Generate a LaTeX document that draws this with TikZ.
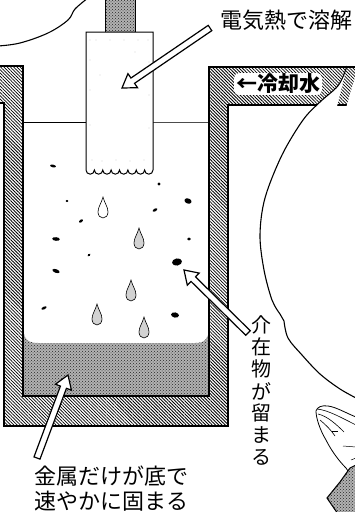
\documentclass[tikz,border=0pt]{standalone}
\usepackage{fontspec}
\newfontfamily\jp{Noto Sans CJK JP}
\usetikzlibrary{calc,patterns,patterns.meta}

% open block arrow from a tail coordinate to a tip coordinate
\newcommand\blockarrow[2]{%
  \coordinate (ba-h) at ($(#2)!13pt!(#1)$);
  \filldraw[blockarrow] (#2)
    -- ($(ba-h)!8.5pt!90:(#2)$) -- ($(ba-h)!3.2pt!90:(#2)$)
    -- ($(#1)!3.2pt!90:(#2)$) -- ($(#1)!3.2pt!-90:(#2)$)
    -- ($(ba-h)!3.2pt!-90:(#2)$) -- ($(ba-h)!8.5pt!-90:(#2)$) -- cycle;}

\tikzset{
  wall/.style={pattern={Lines[angle=-45,distance=2.3pt,line width=0.8pt]}, pattern color=black},
  outline/.style={draw=black, line width=1.6pt, line join=miter},
  stipple/.style={fill=gray!60, postaction={pattern=crosshatch dots, pattern color=black!85}},
  blockarrow/.style={fill=white, draw=black, line width=1.2pt, line join=miter},
  caption/.style={font=\jp\fontsize{22}{27}\selectfont, inner sep=0pt},
  vchar/.style={font=\jp\fontsize{20}{22}\selectfont, inner sep=0pt},
  grain/.style={fill=black},
  pics/drop/.style={code={
    \draw[line width=0.6pt, fill=#1] (0,0) .. controls (1.5,6) and (5,10) .. (5,15)
      .. controls (5,18.5) and (2.8,21) .. (0,21) .. controls (-2.8,21) and (-5,18.5) .. (-5,15)
      .. controls (-5,10) and (-1.5,6) .. (0,0) -- cycle;}},
}

\begin{document}
\begin{tikzpicture}[x=1pt, y=-1pt]
\useasboundingbox (0,0) rectangle (354,512);

% solidified metal pool at the bottom
\fill[stipple] (23,326) .. controls (23,339) and (28,343) .. (38,343) -- (195,343)
  .. controls (205,343) and (209,339) .. (209,326) -- (209,396) -- (23,396) -- cycle;

% molten bath surface
\draw[line width=0.6pt] (23,122) -- (86,122);
\draw[line width=0.6pt, black!70] (153,122) -- (209,122);

% electrode holder and consumable electrode
\filldraw[stipple, draw=black, line width=1pt] (105,-2) rectangle (135,32);
\draw[fill=white, line width=1pt] (86,32) -- (153,32) -- (153,170)
  \foreach \i in {1,...,8} { arc[start angle=0, end angle=180, radius=4.1875] } -- cycle;
\foreach \p in {(90,40),(96,40),(110,40),(124,40),(138,40),(148,40),(90,60),(149,62),(90,90),(149,95),
                (90,125),(149,128),(92,160),(102,161),(116,160),(130,161),(144,160),(135,52),(100,75)}
  \fill[black!45] \p circle (0.45);

% water-cooled crucible wall
\path[wall] (-5,66) -- (23,66) -- (23,396) -- (209,396) -- (209,67) -- (360,67) -- (360,105)
  -- (228,105) -- (228,426) -- (4,426) -- (4,103) -- (-5,103) -- cycle;
\draw[outline] (-5,66) -- (23,66) -- (23,396) -- (209,396) -- (209,67) -- (360,67);
\draw[outline] (360,105) -- (228,105) -- (228,426) -- (4,426) -- (4,103) -- (-5,103);

% droplets falling through the slag
\pic at (103,197) {drop=white};
\pic at (139,228) {drop=gray!35};
\pic at (131,280) {drop=gray!35};
\pic at (97,304) {drop=gray!35};
\pic at (144,317) {drop=gray!35};

% inclusions
\fill[grain, rotate around={-12:(53,166)}] (53,166) ellipse (3 and 1.3);
\fill[grain] (67,201) ellipse (1.4 and 1.2);
\fill[grain, rotate around={35:(81,221)}] (81,221) ellipse (2.2 and 1.3);
\fill[grain, rotate around={-5:(56,239)}] (56,239) ellipse (3.8 and 1.8);
\fill[grain, rotate around={40:(89,255)}] (89,255) ellipse (1.7 and 1.2);
\fill[grain, rotate around={-20:(56,271)}] (56,271) ellipse (3.8 and 1.8);
\fill[grain, rotate around={25:(44,308)}] (44,308) ellipse (2.8 and 1.3);
\fill[grain] (159,184) ellipse (1.7 and 1.6);
\fill[grain, rotate around={-20:(188,201)}] (188,201) ellipse (3.7 and 2.6);
\fill[grain, rotate around={30:(155,210)}] (155,210) ellipse (2.6 and 1.3);
\fill[grain] (189,239) ellipse (1.8 and 1.7);
\fill[grain, rotate around={10:(177,262)}] (177,262) ellipse (5 and 3.6);
\fill[grain, rotate around={-10:(175,315)}] (175,315) ellipse (4 and 2.6);

% speech balloons
\fill[white] plot[smooth, tension=0.55] coordinates {(347,66) (342,79) (336,88) (320,102) (303,120)
  (282,155) (265,198) (260,235) (264,270) (272,300) (280,314)}
  -- (284,321) plot[smooth, tension=0.55] coordinates {(284,321) (288,338) (302,355) (320,374) (340,389) (358,399)}
  -- (360,60) -- cycle;
\draw[line width=1.1pt] plot[smooth, tension=0.55] coordinates {(347,66) (342,79) (336,88) (320,102) (303,120)
  (282,155) (265,198) (260,235) (264,270) (272,300) (280,314)}
  -- (284,321) plot[smooth, tension=0.55] coordinates {(284,321) (288,338) (302,355) (320,374) (340,389) (358,399)};
\draw[line width=1.1pt] plot[smooth, tension=0.6] coordinates {(-2,46) (20,43) (48,33) (68,20) (75,9) (88,-2)};

% praying hands
\draw[line width=0.8pt] (356,417) .. controls (346,413) and (336,407) .. (328,406)
  .. controls (322,405) and (317,407) .. (316,411) .. controls (316,418) and (320,430) .. (326,440)
  .. controls (332,452) and (340,462) .. (346,468) -- (350,474);
\draw[line width=0.6pt] (317,409) .. controls (328,410) and (342,418) .. (356,425);
\draw[line width=0.6pt] (318,414) .. controls (327,416) and (336,424) .. (344,432);
\draw[line width=0.6pt] (320,420) .. controls (326,425) and (331,430) .. (335,436);
\draw[line width=0.5pt] (343,446) -- (356,447);
\draw[line width=0.5pt] (332,431) -- (338,431);
\draw[line width=0.5pt] (351,460) -- (356,458);
\filldraw[stipple, draw=black, line width=1.1pt] (350,468) -- (356,465) -- (356,514) -- (338,514)
  -- (327,498) -- (340,482) -- cycle;

% labels
\node[caption] (heat) at (286,20) {電気熱で溶解};
\node[font=\jp\bfseries\fontsize{21}{25}\selectfont, fill=white, rounded corners=5pt,
      inner xsep=2pt, inner ysep=1pt] (cool) at (278,84) {←冷却水};
\foreach \c [count=\i from 0] in {介,在,物,が,留,ま,る}
  \node[vchar] (incl-\i) at (261,{325+22*\i}) {\c};
\node[caption, anchor=west] (metal1) at (34,476) {金属だけが底で};
\node[caption, anchor=west] (metal2) at (34,501) {速やかに固まる};

% pointer arrows
\coordinate (heat-tail) at (210,28);
\coordinate (heat-tip) at (122,88);
\coordinate (incl-tail) at (248,333);
\coordinate (incl-tip) at (184,270);
\coordinate (metal-tail) at (37,458);
\coordinate (metal-tip) at (68,375);
\blockarrow{heat-tail}{heat-tip}
\blockarrow{incl-tail}{incl-tip}
\blockarrow{metal-tail}{metal-tip}
\end{tikzpicture}
\end{document}
